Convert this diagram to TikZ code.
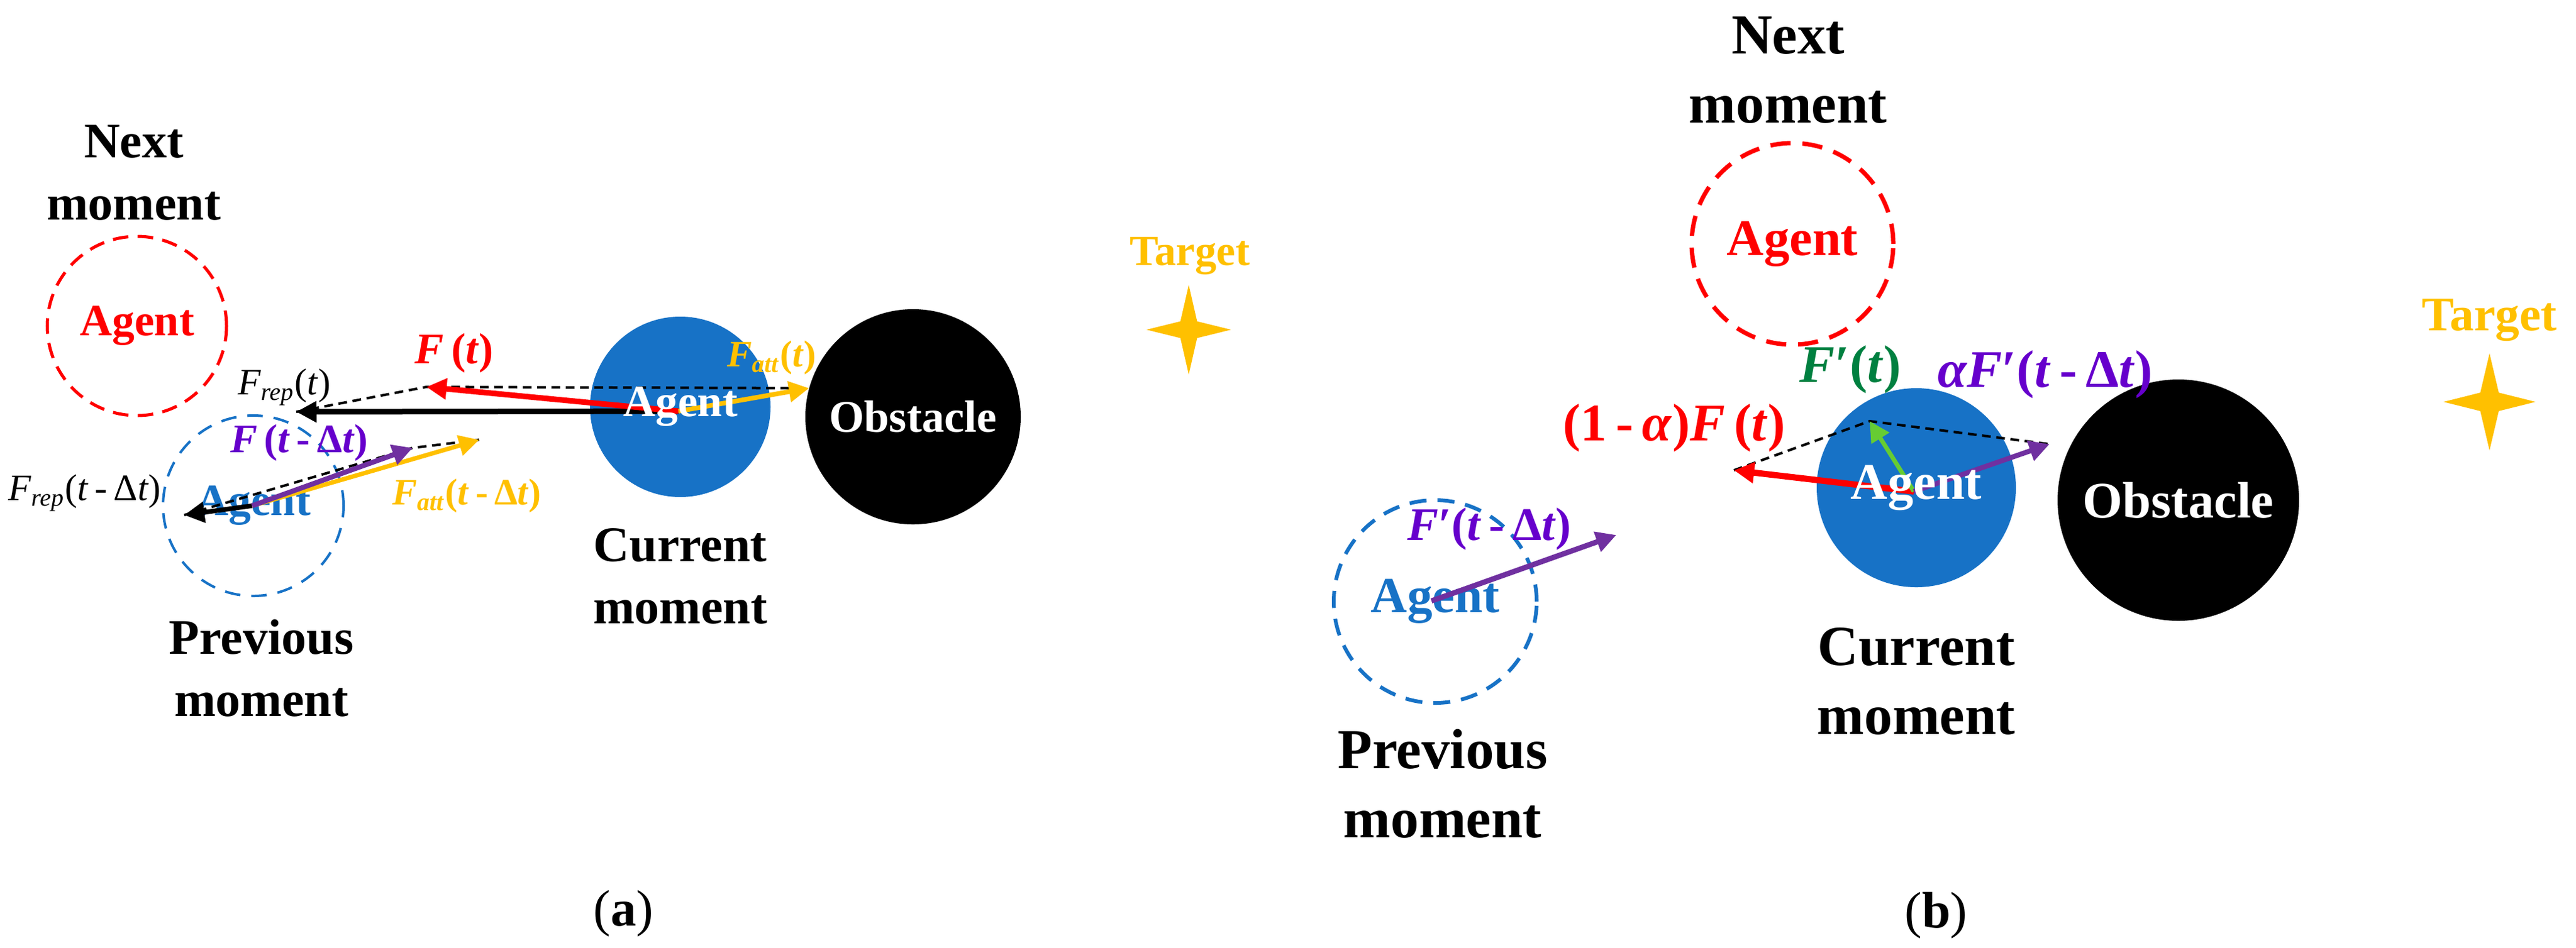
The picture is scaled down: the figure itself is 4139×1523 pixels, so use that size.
\documentclass[tikz,border=0pt]{standalone}
\usepackage{fontspec}
\setmainfont{Liberation Serif}
\usetikzlibrary{arrows.meta}
\usetikzlibrary{shapes.geometric}
\definecolor{agentblue}{RGB}{23,114,198}
\definecolor{gold}{RGB}{255,192,0}
\definecolor{vecpurple}{RGB}{112,48,160}
\definecolor{txtpurple}{RGB}{102,0,204}
\definecolor{vecgreen}{RGB}{102,204,51}
\definecolor{txtgreen}{RGB}{0,128,64}

\begin{document}
\begin{tikzpicture}[x=0.2pt,y=-0.2pt]
		\tikzset{
			ghost/.style={circle,inner sep=0pt,font=\fontsize{14.4pt}{16pt}\selectfont\bfseries},
			agentnow/.style={circle,inner sep=0pt,fill=agentblue},
			agenttxt/.style={inner sep=0pt,text=white,font=\fontsize{14.4pt}{16pt}\selectfont\bfseries},
			obst/.style={circle,inner sep=0pt,fill=black,text=white,font=\fontsize{14.5pt}{16pt}\selectfont\bfseries},
			goal/.style={fill=gold},
			moment/.style={align=center,font=\fontsize{16pt}{20pt}\selectfont\bfseries},
			force/.style={line width=1.8pt,-{Triangle[length=6.5pt,width=6.5pt]}},
			sumline/.style={line width=0.8pt,dash pattern=on 2.8pt off 1.8pt},
			vlabel/.style={inner sep=0pt,font=\fontsize{13pt}{15pt}\selectfont\bfseries},
			vsmall/.style={inner sep=0pt,font=\fontsize{12pt}{14pt}\selectfont},
			vbig/.style={inner sep=0pt,font=\fontsize{17pt}{19pt}\selectfont\bfseries}
		}
		\useasboundingbox (0,0) rectangle (4139,1523);
		
		\node[ghost,minimum size=57.6pt,draw=red,text=red,line width=1pt,dash pattern=on 5pt off 3pt] (nextA) at (220,524) {Agent};
		\node[ghost,minimum size=58pt,draw=agentblue,text=agentblue,line width=0.8pt,dash pattern=on 5pt off 3.5pt] (prevA) at (407,813) {Agent};
		\node[agentnow,minimum size=58pt] (curA) at (1093,654) {};
		\node[obst,minimum size=69.2pt] (obstA) at (1467,670) {Obstacle};
		\coordinate (goalA) at (1910,530);
		\fill[goal,shift={(goalA)}] (90:72) -- (45:19) -- (0:68) -- (-45:19) -- (-90:72) -- (-135:19) -- (180:68) -- (135:19) -- cycle;
		\node[inner sep=0pt,text=gold,font=\fontsize{13.8pt}{16pt}\selectfont\bfseries] (goalAtxt) at (1912,411) {Target};
		\node[moment] (nextAtxt) at (215,278) {Next\\moment};
		\node[moment] (curAtxt) at (1093,926) {Current\\moment};
		\node[moment] (prevAtxt) at (420,1074) {Previous\\moment};
		\node[font=\fontsize{16.5pt}{18pt}\selectfont] (capA) at (1002,1469) {(\textbf{a})};
		
		\coordinate (oA) at (1090,661);
		\coordinate (repA) at (476,662);
		\coordinate (sumA) at (685,622);
		\coordinate (attA) at (1300,624);
		\coordinate (oP) at (405,813);
		\coordinate (repP) at (296,828);
		\coordinate (sumP) at (663,720);
		\coordinate (attP) at (770,707);
		\draw[sumline] (repA) -- (sumA) -- (attA);
		\draw[sumline] (repP) -- (sumP) -- (attP);
		\draw[force,black] (oA) -- (repA);
		\draw[force,red] (oA) -- (sumA);
		\draw[force,gold,line width=1.5pt] (oA) -- (attA);
		\draw[force,black,line width=1.5pt] (oP) -- (repP);
		\draw[force,gold,line width=1.4pt] (oP) -- (attP);
		\draw[force,vecpurple,line width=1.6pt] (oP) -- (sumP);
		\node[agenttxt] (agentAtxt) at (curA) {Agent};
		\node[vlabel,text=red,font=\fontsize{14pt}{16pt}\selectfont\bfseries] (sumAtxt) at (730,568) {\textit{F}\,(\textit{t})};
		\node[vsmall] (repAtxt) at (457,622) {\textit{F}\textsubscript{\textit{rep}}(\textit{t})};
		\node[vsmall,text=gold,font=\fontsize{12pt}{14pt}\selectfont\bfseries] (attAtxt) at (1240,575) {\textit{F}\textsubscript{\textit{att}}(\textit{t})};
		\node[vlabel,text=txtpurple] (sumPtxt) at (481,712) {\textit{F}\,(\textit{t}\,-\,Δ\textit{t})};
		\node[vsmall] (repPtxt) at (136,792) {\textit{F}\textsubscript{\textit{rep}}(\textit{t}\,-\,Δ\textit{t})};
		\node[vsmall,text=gold,font=\fontsize{12pt}{14pt}\selectfont\bfseries] (attPtxt) at (750,797) {\textit{F}\textsubscript{\textit{att}}(\textit{t}\,-\,Δ\textit{t})};
		
		\node[ghost,minimum size=64.8pt,draw=red,text=red,line width=1.4pt,dash pattern=on 6.5pt off 3.8pt,font=\fontsize{16.5pt}{18pt}\selectfont\bfseries] (nextB) at (2880,392) {Agent};
		\node[ghost,minimum size=65.2pt,draw=agentblue,text=agentblue,line width=1.2pt,dash pattern=on 5.5pt off 3.5pt,font=\fontsize{16.2pt}{18pt}\selectfont\bfseries] (prevB) at (2306,967) {Agent};
		\node[agentnow,minimum size=64pt] (curB) at (3079,784) {};
		\node[obst,minimum size=77.6pt,font=\fontsize{16.5pt}{18pt}\selectfont\bfseries] (obstB) at (3500,804) {Obstacle};
		\coordinate (goalB) at (4000,646);
		\fill[goal,shift={(goalB)}] (90:78) -- (45:21) -- (0:74) -- (-45:21) -- (-90:78) -- (-135:21) -- (180:74) -- (135:21) -- cycle;
		\node[inner sep=0pt,text=gold,font=\fontsize{15.5pt}{18pt}\selectfont\bfseries] (goalBtxt) at (4000,515) {Target};
		\node[moment,font=\fontsize{18.2pt}{22.2pt}\selectfont\bfseries] (nextBtxt) at (2873,113) {Next\\moment};
		\node[moment,font=\fontsize{18.2pt}{22.2pt}\selectfont\bfseries] (curBtxt) at (3079,1095) {Current\\moment};
		\node[moment,font=\fontsize{18.2pt}{22.2pt}\selectfont\bfseries] (prevBtxt) at (2318,1260) {Previous\\moment};
		\node[font=\fontsize{16.5pt}{18pt}\selectfont] (capB) at (3111,1472) {(\textbf{b})};
		
		\coordinate (oB) at (3075,790);
		\coordinate (redB) at (2786,756);
		\coordinate (resB) at (3004,677);
		\coordinate (purB) at (3293,714);
		\coordinate (oQ) at (2300,966);
		\coordinate (purQ) at (2597,860);
		\draw[sumline] (redB) -- (resB) -- (purB);
		\draw[force,red,line width=2pt] (oB) -- (redB);
		\draw[force,vecgreen,line width=1.4pt] (oB) -- (resB);
		\draw[force,vecpurple,line width=1.6pt] (oB) -- (purB);
		\draw[force,vecpurple,line width=1.7pt] (oQ) -- (purQ);
		\node[agenttxt,font=\fontsize{16.5pt}{18pt}\selectfont\bfseries] (agentBtxt) at (curB) {Agent};
		\node[vbig,text=red] (redBtxt) at (2690,688) {(1\,-\,\textit{α})\textit{F}\,(\textit{t})};
		\node[vbig,text=txtgreen] (resBtxt) at (2973,594) {\textit{F}′(\textit{t})};
		\node[vbig,text=txtpurple] (purBtxt) at (3286,602) {\textit{αF}′(\textit{t}\,-\,Δ\textit{t})};
		\node[vbig,text=txtpurple,font=\fontsize{15pt}{17pt}\selectfont\bfseries] (purQtxt) at (2393,850) {\textit{F}′(\textit{t}\,-\,Δ\textit{t})};
	\end{tikzpicture}
\end{document}
